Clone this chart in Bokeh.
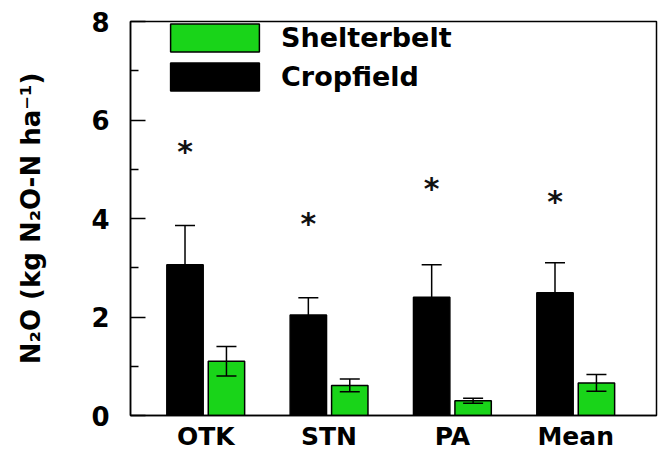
import numpy as np
from bokeh.plotting import figure
from bokeh.models import (Range1d, FixedTicker, Whisker, TeeHead, ColumnDataSource,
                          Legend, LegendItem)
from bokeh.transform import dodge
from bokeh.core.properties import value
from bokeh.embed import file_html
from bokeh.resources import INLINE

# ---- data ----
sites = ["OTK", "STN", "PA", "Mean"]
cropfield = [3.06, 2.04, 2.40, 2.49]
cropfield_se = [0.80, 0.35, 0.66, 0.61]
shelterbelt = [1.10, 0.61, 0.30, 0.66]
shelterbelt_se = [0.30, 0.13, 0.05, 0.17]
signif_y = [5.43, 3.96, 4.68, 4.40]
y_ticks = [0, 2, 4, 6, 8]

FONT = "DejaVu Sans"
GREEN = "#19d419"
OFF = 0.168
BW = 0.295

idx = np.arange(len(sites))
src = ColumnDataSource(dict(
    x=idx,
    crop=cropfield,
    crop_hi=np.array(cropfield) + np.array(cropfield_se),
    crop_lo=np.array(cropfield) - np.array(cropfield_se),
    shel=shelterbelt,
    shel_hi=np.array(shelterbelt) + np.array(shelterbelt_se),
    shel_lo=np.array(shelterbelt) - np.array(shelterbelt_se),
    sig=signif_y,
))

p = figure(width=658, height=453, x_range=Range1d(-0.61, 3.655), y_range=Range1d(0, 8),
           output_backend="svg", toolbar_location=None,
           min_border_left=130, min_border_right=2, min_border_top=21, min_border_bottom=0)
p.grid.visible = False
p.outline_line_color = "black"
p.outline_line_width = 1.5

crop = p.vbar(x=dodge("x", -OFF), top="crop", width=BW, source=src,
              fill_color="black", line_color="black", line_width=1.5)
shel = p.vbar(x=dodge("x", OFF), top="shel", width=BW, source=src,
              fill_color=GREEN, line_color="black", line_width=1.5)

for base_off, hi, lo in [(-OFF, "crop_hi", "crop_lo"), (OFF, "shel_hi", "shel_lo")]:
    w = Whisker(base=dodge("x", base_off), upper=hi, lower=lo, source=src,
                line_color="black", line_width=1.5, level="annotation",
                upper_head=TeeHead(size=20, line_width=1.5, line_color="black"),
                lower_head=TeeHead(size=20, line_width=1.5, line_color="black"))
    p.add_layout(w)

p.text(x=dodge("x", -OFF), y="sig", text=value("*"), source=src,
       text_font=value(FONT), text_font_style="bold", text_font_size="30px",
       text_align="center", text_baseline="middle", y_offset=3, text_color="#111111")

legend = Legend(items=[LegendItem(label="Shelterbelt", renderers=[shel]),
                       LegendItem(label="Cropfield", renderers=[crop])],
                location=(29, 321), glyph_width=111, glyph_height=35, spacing=4,
                padding=0, margin=0, label_standoff=11,
                border_line_color=None, background_fill_alpha=0,
                label_text_font=FONT, label_text_font_style="bold",
                label_text_font_size="27px", label_text_color="black")
p.add_layout(legend)

# y axis
minor = [(a + b) / 2 for a, b in zip(y_ticks[:-1], y_ticks[1:])]
p.yaxis.ticker = FixedTicker(ticks=y_ticks, minor_ticks=minor)
p.yaxis.major_tick_in = 15
p.yaxis.major_tick_out = 0
p.yaxis.minor_tick_in = 8
p.yaxis.minor_tick_out = 0
p.yaxis.major_tick_line_width = 1.5
p.yaxis.minor_tick_line_width = 1.5
p.yaxis.axis_line_width = 1.5
p.yaxis.major_label_text_font = FONT
p.yaxis.major_label_text_font_style = "bold"
p.yaxis.major_label_text_font_size = "26px"
p.yaxis.major_label_text_color = "black"
p.yaxis.major_label_standoff = 21
p.yaxis.axis_label = "N\u2082O (kg N\u2082O-N ha\u207b\u00b9)"
p.yaxis.axis_label_text_font = FONT
p.yaxis.axis_label_text_font_style = "bold"
p.yaxis.axis_label_text_font_size = "26px"
p.yaxis.axis_label_text_color = "black"
p.yaxis.axis_label_standoff = 42

# x axis
p.xaxis.ticker = FixedTicker(ticks=list(idx))
p.xaxis.major_label_overrides = {int(i): s for i, s in zip(idx, sites)}
p.xaxis.major_tick_in = 0
p.xaxis.major_tick_out = 0
p.xaxis.minor_tick_line_color = None
p.xaxis.axis_line_width = 1.5
p.xaxis.major_label_text_font = FONT
p.xaxis.major_label_text_font_style = "bold"
p.xaxis.major_label_text_font_size = "25px"
p.xaxis.major_label_text_color = "black"
p.xaxis.major_label_standoff = 6

open("out.html", "w").write(file_html(p, INLINE))
